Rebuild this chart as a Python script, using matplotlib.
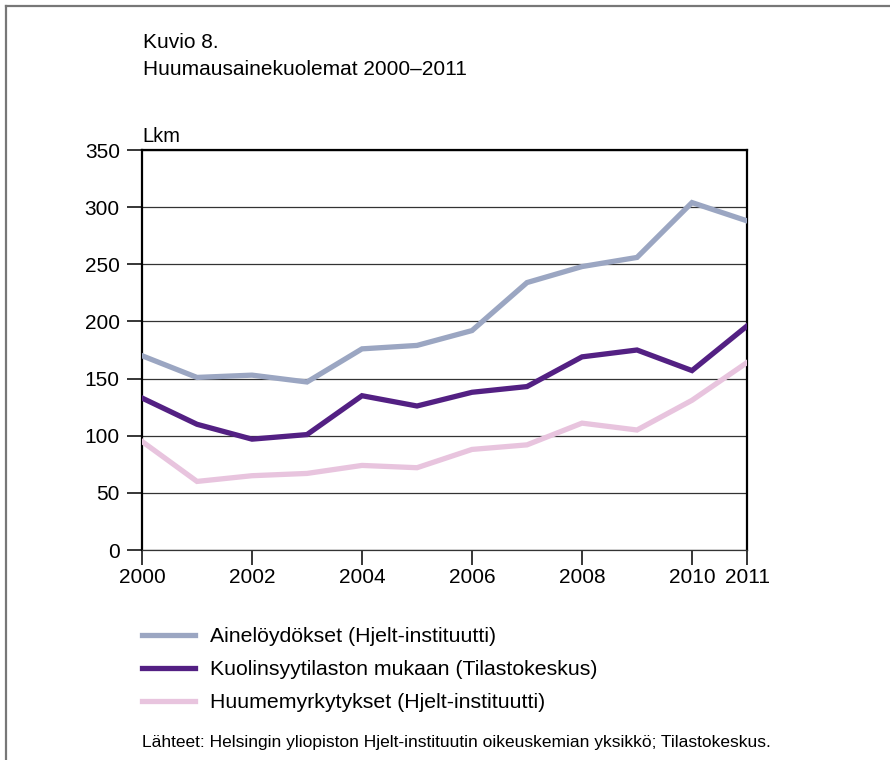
import matplotlib
matplotlib.use('Agg')
import matplotlib.pyplot as plt
from matplotlib.lines import Line2D

plt.rcParams['font.family'] = ['Liberation Sans', 'DejaVu Sans']

years = [2000, 2001, 2002, 2003, 2004, 2005, 2006, 2007, 2008, 2009, 2010, 2011]
aineloydokset = [170, 151, 153, 147, 176, 179, 192, 234, 248, 256, 304, 288]
kuolinsyy = [133, 110, 97, 101, 135, 126, 138, 143, 169, 175, 157, 196]
huumemyrkytykset = [95, 60, 65, 67, 74, 72, 88, 92, 111, 105, 131, 164]

labels = ['Ainelöydökset (Hjelt-instituutti)',
          'Kuolinsyytilaston mukaan (Tilastokeskus)',
          'Huumemyrkytykset (Hjelt-instituutti)']
colors = ['#9ba6c2', '#532083', '#e8c4de']
yticks = [0, 50, 100, 150, 200, 250, 300, 350]
xticks = [2000, 2002, 2004, 2006, 2008, 2010, 2011]

W, H = 890, 760
fig = plt.figure(figsize=(8.9, 7.6), dpi=100)
ax = fig.add_axes([142 / W, 1 - 550 / H, 605 / W, 400 / H])

# gridlines first, data on top
for v in yticks:
    ax.axhline(v, color='#333333', lw=0.9, zorder=1)

lw = 3.8
for series, c in zip([aineloydokset, kuolinsyy, huumemyrkytykset], colors):
    ax.plot(years, series, color=c, lw=lw, solid_joinstyle='miter', zorder=3)

ax.set_xlim(2000, 2011)
ax.set_ylim(0, 350)
ax.set_xticks(xticks)
ax.set_yticks(yticks)
ax.tick_params(axis='both', direction='out', length=11, width=1.1, labelsize=15, color='black')
ax.tick_params(axis='y', pad=5)
ax.tick_params(axis='x', pad=2)

for s in ['left', 'right', 'top']:
    ax.spines[s].set_linewidth(1.6)
    ax.spines[s].set_color('black')
ax.spines['bottom'].set_linewidth(0.9)
ax.spines['bottom'].set_color('#333333')

# ylabel above axis
fig.text(142 / W, 1 - 142 / H, 'Lkm', fontsize=14.5, ha='left', va='baseline')

# title
fig.text(143 / W, 1 - 48 / H, 'Kuvio 8.', fontsize=15, ha='left', va='baseline')
fig.text(143 / W, 1 - 75 / H, 'Huumausainekuolemat 2000\u20132011', fontsize=15,
         ha='left', va='baseline')

# legend
handles = [Line2D([], [], color=c, lw=lw) for c in colors]
fig.legend(handles, labels, loc='upper left', bbox_to_anchor=(142 / W, 1 - 627 / H),
           frameon=False, fontsize=15.3, handlelength=2.5, handletextpad=0.7,
           labelspacing=0.66, borderpad=0, borderaxespad=0)

fig.text(142 / W, 1 - 747 / H,
         'Lähteet: Helsingin yliopiston Hjelt-instituutin oikeuskemian yksikkö; Tilastokeskus.',
         fontsize=12.5, ha='left', va='baseline')

# frame lines at left and top
fig.add_artist(Line2D([6 / W, 6 / W], [0, 1 - 6 / H], color='#777777', lw=1.6))
fig.add_artist(Line2D([6 / W, 1], [1 - 6 / H, 1 - 6 / H], color='#777777', lw=1.6))

fig.savefig('out.png', dpi=100)
